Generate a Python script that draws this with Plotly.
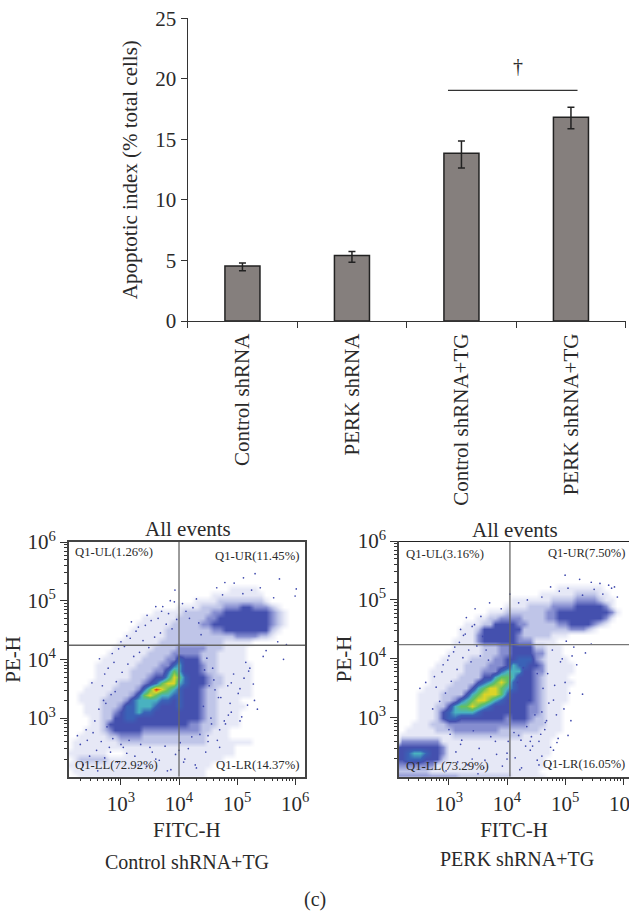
import numpy as np
import plotly.graph_objects as go

W, H = 629, 913
FONT = "Liberation Serif"
INK = "#2a2a2a"

# ---- bar chart values ----
categories = ["Control shRNA", "PERK shRNA", "Control shRNA+TG", "PERK shRNA+TG"]
apoptotic_index = [4.54, 5.4, 13.85, 16.83]
err_plus = [0.25, 0.33, 1.02, 0.83]
err_minus = [0.38, 0.55, 1.21, 0.96]
y_ticks = [0, 5, 10, 15, 20, 25]

# ---- flow cytometry density (level 0-9), step 0.1 decade ----
control_rows = {
 5.2: "00000000000000000000000000001111100000000",
 5.1: "00000000000000000000000001111111110000000",
 5.0: "00000000000000000000001111222222221000000",
 4.9: "00000000000000000001111222233344333210000",
 4.8: "00000000000000011111222223344444444321000",
 4.7: "00000000000001111112222233444444444321000",
 4.6: "00000000000011111122222334444444444321000",
 4.5: "00000000000111111222222223344444444210000",
 4.4: "00000000001111111222222222222333322100000",
 4.3: "00000000011111112222222222211111000000000",
 4.2: "00000000111111122223333322211110000000000",
 4.1: "00000001111111222233333222111110000000000",
 4.0: "00000011111112222335444222111110000000000",
 3.9: "00000111111122223356444322111111000000000",
 3.8: "00000111111222233576444322111111000000000",
 3.7: "00000111111222344687544432211111000000000",
 3.6: "00001111122223457886544432211111000000000",
 3.5: "00011111222235798765444322111111000000000",
 3.4: "00111112222357876655444322111111000000000",
 3.3: "00111122223566665545444322111100000000000",
 3.2: "00011122235566654445444322111110000000000",
 3.1: "00011122345565544444444322111100000000000",
 3.0: "00001122445544444444444322111100000000000",
 2.9: "00001124444444444444433222111100000000000",
 2.8: "00011123444443333333333221110000000000000",
 2.7: "00111112233332222222222211110000000000000",
 2.6: "01111111122222222222222211111111000000000",
 2.5: "01111111111111111111111111111000000000000",
 2.4: "11111110001111111111111111111000000000000",
 2.3: "01222221111111111111111111100000000000000",
 2.2: "11111111111111111111111110000000000000000",
 2.1: "01111111111111111111111100000000000000000",
 2.0: "00111111111111111111111100000000000000000",
}
perk_rows = {
 5.2: "00000000000000000000000000001111111100000",
 5.1: "00000000000000000000000001111112222110000",
 5.0: "00000000000000000000111111122223333211000",
 4.9: "00000000000000000001111222233334444431000",
 4.8: "00000000000000001112222222334444444443100",
 4.7: "00000000000000112233332222334444444431000",
 4.6: "00000000000011122444433222223344443210000",
 4.5: "00000000000111244444442222222233321000000",
 4.4: "00000000000111344444432222211100000000000",
 4.3: "00000000001111344444433311110000000000000",
 4.2: "00000000001111122233444422111000000000000",
 4.1: "00000000011111122233444433111000000000000",
 4.0: "00000000111112222334455532111100000000000",
 3.9: "00000001111122223334655443111110000000000",
 3.8: "00000011111122233356664433111110000000000",
 3.7: "00000011111222244677644432111100000000000",
 3.6: "00000011112222456787544432111110000000000",
 3.5: "00000111122224678876544432111100000000000",
 3.4: "00001111222246788875444432111100000000000",
 3.3: "00001111223567887654444432111100000000000",
 3.2: "00001112246778765444444332111000000000000",
 3.1: "00001112456666544444444332111000000000000",
 3.0: "00001112455444444443444322111000000000000",
 2.9: "00011122233333333333333222111000000000000",
 2.8: "00111112223333333322222221111000000000000",
 2.7: "01111111112222222222221111110000000000000",
 2.6: "03333333111111111111111111100000000000000",
 2.5: "44444444311111111111111111100000000000000",
 2.4: "44566544311111111111111111100000000000000",
 2.3: "44555444211111111111111111000000000000000",
 2.2: "33333331111111111111111111000000000000000",
 2.1: "22222211111111111111111110000000000000000",
 2.0: "33333333333222222222111111000000000000000",
}
decade_grid_x = [round(2.1 + 0.1 * i, 1) for i in range(41)]
decade_grid_y = [round(2.0 + 0.1 * j, 1) for j in range(41)]

# ---- sparse events (log10 FITC-H, log10 PE-H) ----
control_x = [4.79,5.11,5.31,5.73,6.02,6.0,5.63,4.65,4.3,3.93,3.18,2.63,2.5,2.72,2.85,3.0,3.1,3.3,3.45,3.6,3.7,3.85,
             4.42,4.55,4.9,5.2,5.45,5.8,5.85,5.7,5.5,5.3,5.05,4.85,4.7,5.4,5.1,4.95,4.75,5.25,5.15,4.6,4.5,4.8,
             2.25,2.3,2.4,2.55,2.7,2.8,2.35,2.6,3.1,3.3,3.5,3.8,4.1,4.3,4.5,4.7,4.9,3.0,3.6,4.0,2.9,5.05,5.35,
             2.62,2.68,2.74,2.78,2.83,2.88,2.92,2.96,3.02,3.06,3.12,3.16,3.22,3.26,3.32,3.38,3.42,3.48,3.52,3.58,
             3.64,3.68,3.72,3.78,3.82,3.88,3.92,3.96,4.06,4.12,4.18,4.24,4.34,4.38,4.44,4.48,4.52,4.58,4.62,4.68,
             2.42,2.46,2.52,2.58,2.66,2.72,2.76,2.82,2.86,2.94,3.04,3.14,3.24,3.34,3.44,3.54,3.66,3.76,3.86,3.94,
             4.02,4.08,4.16,4.22,4.28,4.36,4.46,4.56,4.66,4.72,4.78,4.84,4.88,4.94,5.02,5.08,5.12,5.18,5.22,5.28]
control_y = [5.31,5.39,5.46,5.37,5.2,5.08,5.05,5.22,5.03,5.18,4.64,4.01,3.6,3.75,4.1,4.3,4.4,4.55,4.75,4.9,4.82,5.0,
             3.2,3.0,3.6,3.8,4.05,4.0,4.25,4.3,4.15,3.3,3.5,3.05,2.8,5.22,5.12,5.3,5.1,5.18,3.95,3.65,2.7,2.9,
             2.7,2.55,2.8,2.95,3.3,2.5,2.2,2.1,2.4,2.2,2.5,2.1,2.3,2.15,2.6,2.5,3.1,2.55,2.3,2.45,3.45,2.95,3.15,
             3.15,3.55,3.25,3.85,3.4,3.95,3.62,4.18,3.78,4.22,3.92,4.36,4.05,4.48,4.12,4.32,4.58,4.2,4.66,4.38,
             4.7,4.45,4.9,4.6,4.78,4.52,4.98,4.68,4.95,4.82,4.7,4.88,4.62,4.42,3.82,4.02,3.55,3.85,3.48,3.35,
             2.62,2.35,2.75,2.45,2.6,2.32,2.85,2.42,2.65,2.25,2.5,2.62,2.35,2.55,2.18,2.42,2.28,2.52,2.12,2.38,
             2.58,2.25,2.48,2.68,2.2,2.72,2.42,2.9,2.62,3.35,2.95,3.55,3.25,3.75,3.42,3.02,3.68,3.22,3.85,3.58]
perk_x = [5.0,5.05,5.25,5.3,5.45,5.6,5.75,5.85,4.75,4.6,4.35,4.2,4.05,3.9,3.55,3.4,3.25,3.1,3.0,2.9,2.75,2.6,2.5,
          4.6,4.8,5.0,5.2,5.35,5.15,4.95,4.7,4.85,5.1,4.65,4.55,4.75,5.05,5.3,3.3,3.2,3.45,3.7,4.0,4.25,4.4,4.55,
          3.0,3.2,3.4,3.6,3.8,4.0,4.2,4.4,4.6,4.8,2.95,3.15,3.5,5.5,5.65,5.8,5.9,4.9,5.45,
          2.72,2.78,2.84,2.88,2.94,2.98,3.04,3.08,3.14,3.18,3.24,3.28,3.34,3.38,3.44,3.48,3.54,3.58,3.64,3.68,
          4.12,4.18,4.24,4.28,4.34,4.38,4.44,4.48,4.52,4.58,4.62,4.68,4.72,4.78,4.82,4.88,4.92,4.98,5.02,5.08,
          3.02,3.12,3.22,3.32,3.42,3.52,3.62,3.72,3.82,3.92,4.02,4.14,4.22,4.32,4.42,4.52,4.66,4.76,4.86,5.12]
perk_y = [5.42,5.2,5.35,5.08,5.3,5.28,5.25,5.22,5.22,5.05,5.0,4.95,5.1,4.85,4.72,4.55,4.4,4.2,4.05,3.9,3.7,3.6,3.5,
          3.1,3.3,3.6,3.9,4.1,4.2,4.0,3.75,3.05,2.95,2.8,2.6,2.5,2.7,3.4,4.7,4.5,4.85,4.95,2.3,2.15,2.45,2.2,
          2.8,2.55,2.3,2.15,2.6,2.4,2.7,2.6,2.35,2.45,2.1,2.25,2.05,5.18,5.1,5.2,5.05,5.15,4.25,
          3.15,3.52,3.28,3.78,3.42,3.98,3.62,4.12,3.82,4.28,4.02,4.42,4.15,3.95,4.58,4.22,4.05,4.38,4.15,3.98,
          2.75,3.6,2.62,3.85,2.85,3.3,2.52,3.05,3.75,2.72,3.5,2.95,3.25,4.15,3.55,2.65,3.95,3.15,4.3,3.42,
          2.72,2.42,2.62,2.2,2.78,2.48,2.28,2.68,2.38,2.18,2.6,2.32,2.12,2.52,2.68,2.28,2.92,2.22,2.58,4.05]

log_ticks = [3, 4, 5, 6]
log_tick_labels = ["10<sup>3</sup>", "10<sup>4</sup>", "10<sup>5</sup>", "10<sup>6</sup>"]
minor_decades = [round(float(d + np.log10(m)), 3) for d in [2, 3, 4, 5] for m in range(2, 10)]


def to_matrix(rows):
    m = []
    for y in decade_grid_y:
        s = rows.get(y, "")
        s = s.ljust(41, "0")[:41]
        m.append([int(c) for c in s])
    return m


scale = [[0.0, "#ffffff"], [1/9, "#e6e8f6"], [2/9, "#bfc5e8"], [3/9, "#858dd0"], [4/9, "#4450ae"],
         [5/9, "#3a62b6"], [6/9, "#49b2c0"], [7/9, "#62c060"], [8/9, "#dcd428"], [1.0, "#e23a1c"]]


def px_x(p):
    return p / W


def px_y(p):
    return 1 - p / H


fig = go.Figure()

fig.add_trace(go.Bar(
    x=categories, y=apoptotic_index, width=0.32, xaxis="x", yaxis="y",
    marker=dict(color="#857f7d", line=dict(color="#222222", width=1.5)),
    error_y=dict(type="data", symmetric=False, array=err_plus, arrayminus=err_minus,
                 color="#222222", thickness=1.5, width=3.5),
    showlegend=False))

for rows, ex, ey, xa, ya in [(control_rows, control_x, control_y, "x2", "y2"),
                             (perk_rows, perk_x, perk_y, "x3", "y3")]:
    fig.add_trace(go.Heatmap(x=decade_grid_x, y=decade_grid_y, z=to_matrix(rows), xaxis=xa, yaxis=ya,
                             colorscale=scale, zmin=0, zmax=9, zsmooth="best", showscale=False,
                             hoverinfo="skip"))
    fig.add_trace(go.Scatter(x=ex, y=ey, mode="markers", xaxis=xa, yaxis=ya, showlegend=False,
                             marker=dict(size=1.7, color="#3f49ad")))

axis_font = dict(family=FONT, size=21, color=INK)
fig.update_layout(
    width=W, height=H, margin=dict(l=0, r=0, t=0, b=0, autoexpand=False), autosize=False,
    paper_bgcolor="white", plot_bgcolor="white", font=dict(family=FONT, color=INK), showlegend=False,
    xaxis=dict(domain=[px_x(187.7), px_x(625.7)], anchor="y", type="category", tickson="boundaries",
               ticks="outside", ticklen=6, tickcolor="#333", showline=True, linecolor="#333", linewidth=1.3,
               tickangle=-90, tickfont=dict(family=FONT, size=21, color=INK), ticklabelstandoff=3,
               showgrid=False, zeroline=False, automargin=False),
    yaxis=dict(domain=[px_y(321), px_y(18.3)], anchor="x", range=[0, 25], tickvals=y_ticks,
               ticks="outside", ticklen=6, tickcolor="#333", showline=True, linecolor="#333", linewidth=1.3,
               tickfont=axis_font, showgrid=False, zeroline=False, automargin=True,
               title=dict(text="Apoptotic index (% total cells)", font=dict(family=FONT, size=21, color=INK), standoff=11)),
)

for xn, yn, xdom, xrng, ydom, mirror, y_standoff in [
        ("xaxis2", "yaxis2", [68.7, 305], [2.1, 6.17], [542, 776.7], True, 1),
        ("xaxis3", "yaxis3", [399, 629], [2.14, 6.1], [541, 776.7], False, 0)]:
    ax_x = dict(domain=[px_x(xdom[0]), px_x(xdom[1])], range=xrng, anchor=yn.replace("yaxis", "y"),
                tickmode="array", tickvals=log_ticks, ticktext=log_tick_labels, ticks="outside", ticklen=7,
                tickcolor="#333", showline=True, linecolor="#444", linewidth=1.5, mirror=mirror,
                tickfont=axis_font, showgrid=False, zeroline=False, tickangle=0, automargin=True,
                ticklabeloverflow="allow",
                minor=dict(tickvals=minor_decades, ticks="outside", ticklen=3, tickcolor="#333", showgrid=False),
                title=dict(text="FITC-H", font=axis_font, standoff=8))
    ax_y = dict(domain=[px_y(ydom[1]), px_y(ydom[0])], range=[2, 6], anchor=xn.replace("xaxis", "x"),
                tickmode="array", tickvals=log_ticks, ticktext=log_tick_labels, ticks="outside", ticklen=7,
                tickcolor="#333", showline=True, linecolor="#444", linewidth=1.5, mirror=mirror,
                tickfont=axis_font, showgrid=False, zeroline=False, automargin=True,
                minor=dict(tickvals=minor_decades, ticks="outside", ticklen=3, tickcolor="#333", showgrid=False),
                title=dict(text="PE-H", font=axis_font, standoff=y_standoff))
    fig.update_layout({xn: ax_x, yn: ax_y})

shapes = [
    dict(type="line", xref="x", yref="y", x0=1.877, x1=3.06, y0=19.04, y1=19.04, line=dict(color="#333", width=1.3)),
    dict(type="line", xref="x2", yref="y2", x0=2.1, x1=6.17, y0=4.24, y1=4.24, line=dict(color="#666", width=1.3)),
    dict(type="line", xref="x2", yref="y2", x0=4.0, x1=4.0, y0=2, y1=6, line=dict(color="#666", width=1.3)),
    dict(type="line", xref="x3", yref="y3", x0=2.14, x1=6.1, y0=4.24, y1=4.24, line=dict(color="#777", width=1.3)),
    dict(type="line", xref="x3", yref="y3", x0=4.05, x1=4.05, y0=2, y1=6, line=dict(color="#666", width=1.3)),
    dict(type="line", xref="x3", yref="y3", x0=2.14, x1=6.1, y0=6, y1=6, line=dict(color="#222", width=2)),
]


def note(text, x, y, size=21, anchor="center"):
    return dict(text=text, xref="paper", yref="paper", x=px_x(x), y=px_y(y), showarrow=False,
                xanchor=anchor, yanchor="middle", font=dict(family=FONT, size=size, color=INK))


annotations = [
    note("†", 518, 66, 20),
    note("All events", 188, 529), note("All events", 515, 530),
    note("Control shRNA+TG", 187, 862, 20), note("PERK shRNA+TG", 517, 859, 20),
    note("(c)", 315, 899, 20),
    note("Q1-UL(1.26%)", 73, 552, 12.7, "left"), note("Q1-UR(11.45%)", 213, 556, 12.7, "left"),
    note("Q1-LL(72.92%)", 73, 765, 12.7, "left"), note("Q1-LR(14.37%)", 214, 765, 12.7, "left"),
    note("Q1-UL(3.16%)", 404, 554, 12.7, "left"), note("Q1-UR(7.50%)", 627, 553, 12.5, "right"),
    note("Q1-LL(73.29%)", 404, 766, 12.7, "left"), note("Q1-LR(16.05%)", 627, 764, 12.5, "right"),
]
fig.update_layout(shapes=shapes, annotations=annotations)

fig.write_html("out.html", config=dict(displayModeBar=False),
               post_script="document.body.style.margin='0';document.body.style.overflow='hidden';")
